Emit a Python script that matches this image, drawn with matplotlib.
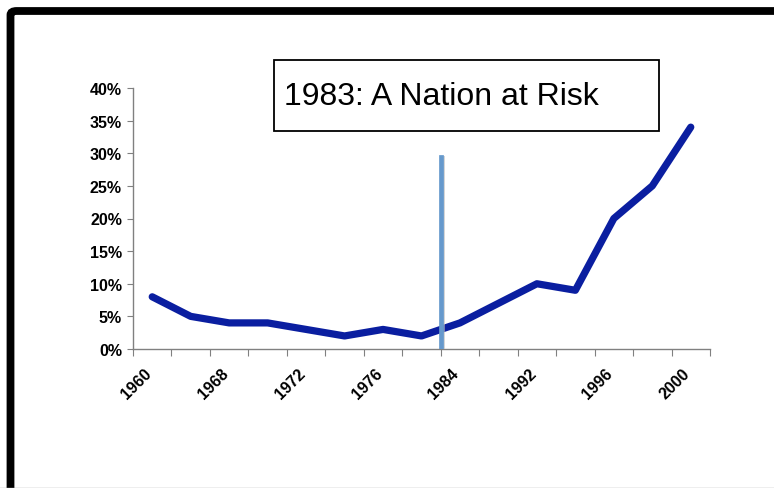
import matplotlib.pyplot as plt
import numpy as np
from matplotlib.ticker import PercentFormatter
from matplotlib.patches import Rectangle, FancyBboxPatch
from matplotlib.lines import Line2D

plt.rcParams['font.family'] = ['Liberation Sans', 'DejaVu Sans']

# 15 categories, only every other one is labelled in the original
years = ['1960', '1964', '1968', '1970', '1972', '1974', '1976', '1980',
         '1984', '1988', '1992', '1994', '1996', '1998', '2000']
rate = [0.08, 0.05, 0.04, 0.04, 0.03, 0.02, 0.03, 0.02,
        0.04, 0.07, 0.10, 0.09, 0.20, 0.25, 0.34]
marker_pos = 7.5          # 1983 sits between categories 7 and 8
marker_top = 0.295
note = '1983: A Nation at Risk'

W, H = 774, 489
fig = plt.figure(figsize=(W / 100, H / 100), dpi=100)
ax = fig.add_axes([133 / W, 1 - 350 / H, (710 - 133) / W, (350 - 89) / H])

x = np.arange(len(years))
ax.plot(x, rate, color='#0a1ea0', lw=5.2, solid_capstyle='round',
        solid_joinstyle='round', zorder=3)
# shadow + marker line for 1983
ax.plot([marker_pos + 0.04, marker_pos + 0.04], [0.003, marker_top - 0.002],
        color='#bbbbbb', lw=3.6, alpha=0.6, zorder=3.5)
ax.plot([marker_pos, marker_pos], [0.003, marker_top], color='#6699cc',
        lw=3.4, zorder=4)

ax.set_xlim(-0.5, len(years) - 0.5)
ax.set_ylim(0, 0.4)
ax.set_yticks(np.arange(0, 0.41, 0.05))
ax.yaxis.set_major_formatter(PercentFormatter(1, decimals=0))

ax.set_xticks(np.arange(-0.5, len(years), 1))
ax.set_xticklabels([])
ax.set_xticks(x[::2] + 0.05, minor=True)
ax.set_xticklabels(years[::2], minor=True, rotation=45, ha='right',
                   va='top', fontweight='bold', fontsize=11.5)
ax.tick_params(axis='x', which='minor', length=0, pad=12)
ax.tick_params(axis='x', which='major', length=5, color='#808080',
               direction='out')
ax.tick_params(axis='y', length=4, color='#808080', direction='out', pad=4)
for lab in ax.get_yticklabels():
    lab.set_fontweight('bold')
    lab.set_fontsize(11.5)

for s in ['top', 'right']:
    ax.spines[s].set_visible(False)
for s in ['left', 'bottom']:
    ax.spines[s].set_color('#808080')
    ax.spines[s].set_linewidth(1.0)

# annotation box
fig.patches.append(Rectangle((274 / W, 1 - 132 / H), (659 - 274) / W,
                             (132 - 61) / H, transform=fig.transFigure,
                             fill=False, ec='black', lw=1.3))
fig.text(284 / W, 1 - 105 / H, note, fontsize=23, va='baseline',
         ha='left', color='black')

# slide frame
fig.patches.append(FancyBboxPatch((10.5 / W, -0.1), 1.2, 1 - 12 / H + 0.1,
                                  boxstyle='round,pad=0,rounding_size=0.008',
                                  transform=fig.transFigure, fill=False,
                                  ec='black', lw=5.6))
fig.lines.append(Line2D([0, 1], [0.5 / H, 0.5 / H], transform=fig.transFigure,
                        color='#aaaaaa', lw=1))

fig.savefig('out.png', dpi=100)
